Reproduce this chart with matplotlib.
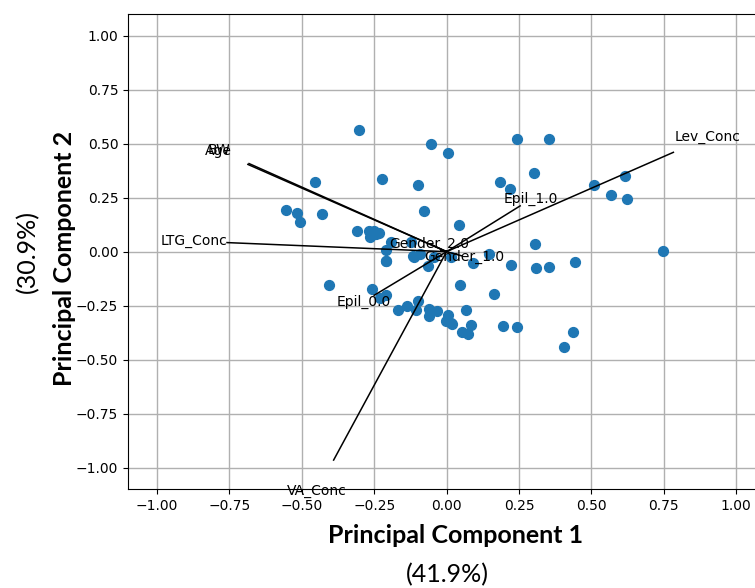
import matplotlib
matplotlib.use("Agg")
import matplotlib.pyplot as plt
import numpy as np

# PCA scores (PC1, PC2)
pc1 = [-0.301, -0.053, 0.006, -0.453, -0.223, -0.099, -0.553, -0.516, -0.506, -0.431,
       -0.078, 0.044, -0.310, -0.269, -0.266, -0.249, -0.234, -0.258, -0.243, -0.191,
       -0.122, -0.209, -0.209, -0.111, -0.210, -0.407, -0.257, -0.209, -0.230, -0.168,
       -0.136, -0.098, -0.105, -0.061, -0.061, -0.032, 0.006, -0.001, 0.016, 0.047,
       0.068, 0.054, 0.073, 0.243, 0.354, 0.301, 0.185, 0.218, 0.510, 0.616,
       0.569, 0.623, 0.304, 0.146, 0.746, 0.091, 0.224, 0.307, 0.352, 0.444,
       0.162, 0.020, 0.083, 0.194, 0.242, 0.437, 0.406, -0.117, -0.093, -0.065,
       -0.042, 0.016]
pc2 = [0.563, 0.499, 0.457, 0.321, 0.335, 0.307, 0.191, 0.179, 0.136, 0.173,
       0.188, 0.123, 0.096, 0.097, 0.070, 0.097, 0.086, 0.085, 0.082, 0.046,
       0.043, 0.010, -0.045, -0.023, -0.045, -0.154, -0.174, -0.201, -0.215, -0.272,
       -0.250, -0.227, -0.270, -0.265, -0.298, -0.276, -0.293, -0.319, -0.330, -0.154,
       -0.268, -0.373, -0.381, 0.522, 0.522, 0.363, 0.321, 0.292, 0.310, 0.350,
       0.262, 0.245, 0.037, -0.010, 0.005, -0.054, -0.060, -0.075, -0.069, -0.046,
       -0.198, -0.335, -0.338, -0.344, -0.347, -0.372, -0.440, -0.019, -0.010, -0.065,
       -0.026, -0.026]

# loadings
var_names = ['Age', 'BW', 'LTG_Conc', 'VA_Conc', 'Lev_Conc',
             'Gender_1.0', 'Gender_2.0', 'Epil_0.0', 'Epil_1.0']
load_x = [-0.686, -0.682, -0.758, -0.390, 0.783, 0.054, -0.051, -0.250, 0.254]
load_y = [0.404, 0.408, 0.042, -0.965, 0.460, -0.020, 0.032, -0.202, 0.212]

fig = plt.figure(figsize=(7.55, 5.88), dpi=100)
ax = fig.add_axes([0.1695, 0.168, 0.844, 0.808])

ax.scatter(pc1, pc2, s=50, color='#1f77b4', zorder=3)

for i in range(len(var_names)):
    ax.plot([0, load_x[i]], [0, load_y[i]], color='k', lw=1.1, zorder=4)
    ax.text(load_x[i] * 1.15, load_y[i] * 1.15, var_names[i], fontsize=10,
            ha='center', va='center', zorder=5)

ax.set_xlim(-1.1, 1.1)
ax.set_ylim(-1.1, 1.1)
ax.set_xticks(np.arange(-1.0, 1.01, 0.25))
ax.set_yticks(np.arange(-1.0, 1.01, 0.25))
ax.tick_params(labelsize=10)
ax.grid(True, color='#b0b0b0', lw=1)
ax.set_axisbelow(True)
ax.spines['right'].set_visible(False)

fig.text(0.603, 0.090, 'Principal Component 1', family='Lato', weight='bold',
         fontsize=18, ha='center', va='center')
fig.text(0.593, 0.022, '(41.9%)', family='Lato', fontsize=18, ha='center', va='center')
fig.text(0.086, 0.561, 'Principal Component 2', family='Lato', weight='bold',
         fontsize=18, ha='center', va='center', rotation=90)
fig.text(0.037, 0.573, '(30.9%)', family='Lato', fontsize=18, ha='center', va='center',
         rotation=90)

fig.savefig('out.png', dpi=100)
